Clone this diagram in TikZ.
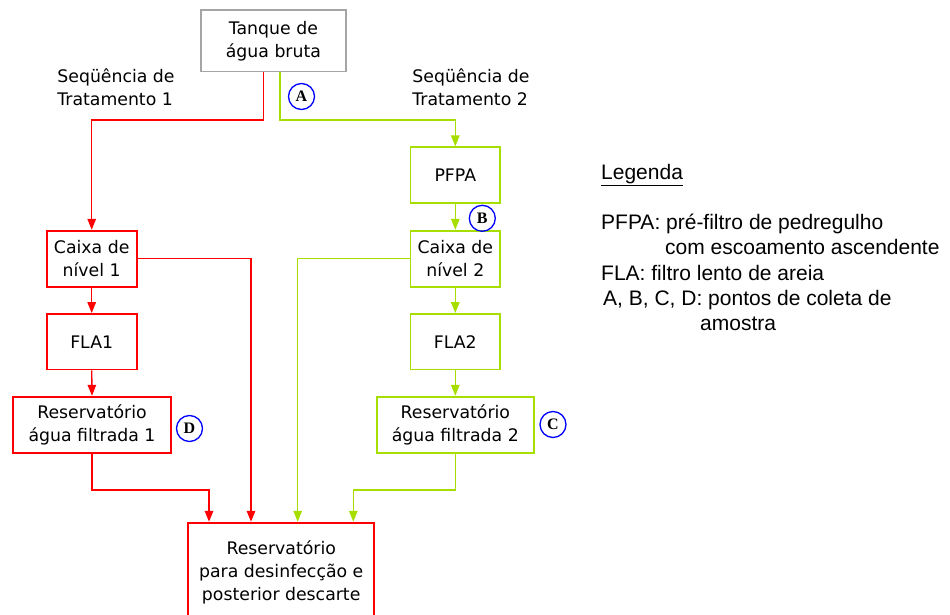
\documentclass[tikz,border=0pt]{standalone}
\usepackage{fontspec}
\setmainfont{DejaVu Sans}
\newfontfamily\legfont{Liberation Sans}
\newfontfamily\ptfont{Liberation Serif}
\usetikzlibrary{arrows.meta}
\definecolor{cred}{RGB}{255,0,0}
\definecolor{cgreen}{RGB}{166,222,0}
\definecolor{cgray}{RGB}{165,165,165}
\definecolor{cblue}{RGB}{0,0,255}
\begin{document}
\begin{tikzpicture}[x=1pt,y=-1pt,
  box/.style={draw, line width=1.8pt, rectangle, align=center, inner sep=0pt,
    font=\fontsize{17.3}{23}\selectfont},
  graybox/.style={box, draw=cgray},
  redbox/.style={box, draw=cred},
  greenbox/.style={box, draw=cgreen},
  flow/.style={line width=1.4pt, -{Triangle[length=11pt,width=8.5pt]}},
  redflow/.style={flow, draw=cred},
  greenflow/.style={flow, draw=cgreen},
  ptlabel/.style={circle, draw=cblue, line width=1.3pt, minimum size=26pt, inner sep=0pt,
    font=\ptfont\bfseries\fontsize{16}{16}\selectfont},
  seqlabel/.style={align=left, font=\fontsize{17.3}{23}\selectfont},
  legtext/.style={anchor=base west, inner sep=0pt, font=\legfont\fontsize{21}{25}\selectfont}
]
\useasboundingbox (0,0) rectangle (950,615);

% boxes
\node[graybox, minimum width=145pt, minimum height=61.5pt] (tanque) at (273.4,40.8) {Tanque de\\água bruta};
\node[greenbox, minimum width=89.5pt, minimum height=56pt] (pfpa) at (455.3,175.3) {PFPA};
\node[greenbox, minimum width=89.5pt, minimum height=56pt] (cx2) at (455.3,258.7) {Caixa de\\nível 2};
\node[greenbox, minimum width=89.5pt, minimum height=55.5pt] (fla2) at (455.3,341.7) {FLA2};
\node[greenbox, minimum width=157.3pt, minimum height=56.6pt] (res2) at (455.3,425) {Reservatório\\água filtrada 2};
\node[redbox, minimum width=90pt, minimum height=56pt] (cx1) at (91.7,258.7) {Caixa de\\nível 1};
\node[redbox, minimum width=90pt, minimum height=55.5pt] (fla1) at (91.7,341.7) {FLA1};
\node[redbox, minimum width=157.3pt, minimum height=56.6pt] (res1) at (92,425) {Reservatório\\água filtrada 1};
\node[redbox, minimum width=185.7pt, minimum height=100pt] (final) at (281.2,572.7) {Reservatório\\para desinfecção e\\posterior descarte};

% sequence labels
\node[seqlabel] (seq1) at (116,87) {Seqüência de\\Tratamento 1};
\node[seqlabel] (seq2) at (471,87) {Seqüência de\\Tratamento 2};

% sampling points
\node[ptlabel] (pA) at (301.5,96.5) {A};
\node[ptlabel] (pB) at (482.3,218.3) {B};
\node[ptlabel] (pC) at (553,424.5) {C};
\node[ptlabel] (pD) at (189.5,428.5) {D};

% connector anchors
\coordinate (r0) at ([xshift=-10.1pt]tanque.south);
\coordinate (g0) at ([xshift=6.6pt]tanque.south);

% red sequence
\draw[redflow] (r0) -- (r0 |- 0,120) -| (cx1.north);
\draw[redflow] (cx1.south) -- (fla1.north);
\draw[redflow] (fla1.south) -- (res1.north);
\draw[redflow] (cx1.east) -| ([xshift=-30.2pt]final.north);
\draw[redflow] (res1.south) -- (res1.south |- 0,490) -| ([xshift=-72.2pt]final.north);

% green sequence
\draw[greenflow] (g0) -- (g0 |- 0,120) -| (pfpa.north);
\draw[greenflow] (pfpa.south) -- (cx2.north);
\draw[greenflow] (cx2.south) -- (fla2.north);
\draw[greenflow] (fla2.south) -- (res2.north);
\draw[greenflow] (cx2.west) -| ([xshift=16.5pt]final.north);
\draw[greenflow] (res2.south) -- (res2.south |- 0,490) -| ([xshift=72.1pt]final.north);

% legend
\node[legtext] (leg0) at (601,179) {\underline{Legenda}};
\node[legtext] (leg1) at (601,229) {PFPA: pré-filtro de pedregulho};
\node[legtext] (leg2) at (665,254) {com escoamento ascendente};
\node[legtext] (leg3) at (601,280) {FLA: filtro lento de areia};
\node[legtext] (leg4) at (603,305) {A, B, C, D: pontos de coleta de};
\node[legtext] (leg5) at (700,330) {amostra};
\end{tikzpicture}
\end{document}
